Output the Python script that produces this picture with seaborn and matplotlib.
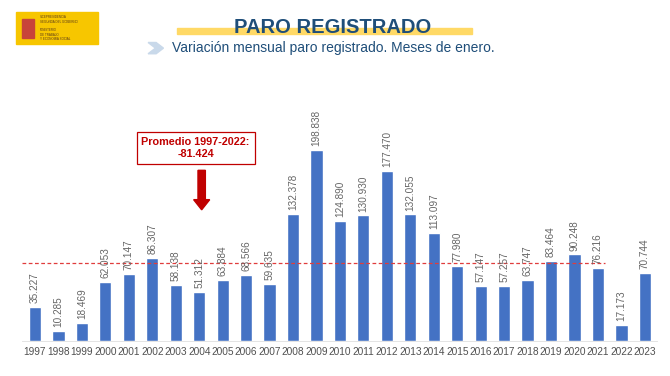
import pandas as pd
import matplotlib.pyplot as plt
import seaborn as sns
from matplotlib.patches import Rectangle, FancyArrow, Polygon

# === DATA ===
years = [str(y) for y in range(1997, 2024)]
values = [35227, 10285, 18469, 62053, 70147, 86307, 58138, 51312, 63884, 68566,
          59635, 132378, 198838, 124890, 130930, 177470, 132055, 113097, 77980,
          57147, 57257, 63747, 83464, 90248, 76216, 17173, 70744]
labels = ["35.227", "10.285", "18.469", "62.053", "70.147", "86.307", "58.138",
          "51.312", "63.884", "68.566", "59.635", "132.378", "198.838", "124.890",
          "130.930", "177.470", "132.055", "113.097", "77.980", "57.147", "57.257",
          "63.747", "83.464", "90.248", "76.216", "17.173", "70.744"]
promedio = 81424

df = pd.DataFrame({'year': years, 'value': values})

sns.set_theme(style='white')
plt.rcParams['font.family'] = ['Liberation Sans', 'DejaVu Sans']

fig = plt.figure(figsize=(6.7, 3.76), dpi=100)
ax = fig.add_axes([0.033, 0.093, 0.947, 0.694])

sns.barplot(data=df, x='year', y='value', color='#4472C4', width=0.52,
            saturation=1, ax=ax)

# value labels above bars, rotated
for i, (v, lab) in enumerate(zip(values, labels)):
    ax.text(i, v + 4000, lab, rotation=90, ha='center', va='bottom',
            fontsize=7.2, color='#666666')

# average line
ax.plot([-0.55, 24.3], [promedio, promedio], ls=(0, (3, 2)), color='#E03C3C',
        lw=0.9)

ax.set_ylim(0, 272000)
ax.set_xlim(-0.55, 26.5)
ax.set_xlabel('')
ax.set_ylabel('')
ax.set_yticks([])
ax.tick_params(axis='x', length=0, labelsize=7.3, labelcolor='#505050', pad=4)
for s in ['top', 'right', 'left']:
    ax.spines[s].set_visible(False)
ax.spines['bottom'].set_color('#E4E4E4')
ax.spines['bottom'].set_linewidth(0.7)

# annotation box and arrow
fig.text(0.292, 0.607, 'Promedio 1997-2022:\n-81.424', ha='center', va='center',
         fontsize=7.8, fontweight='bold', color='#C00000', linespacing=1.3,
         bbox=dict(boxstyle='square,pad=0.45', fc='white', ec='#C00000', lw=0.9))
fig.patches.append(FancyArrow(0.301, 0.547, 0, -0.105, width=0.011,
                              head_width=0.024, head_length=0.027,
                              length_includes_head=True, color='#C00000',
                              transform=fig.transFigure, figure=fig))

# title with yellow underline
fig.patches.append(Rectangle((0.264, 0.909), 0.44, 0.017, color='#FFD966',
                             transform=fig.transFigure, figure=fig))
fig.text(0.497, 0.926, 'PARO REGISTRADO', ha='center', va='center',
         fontsize=14.5, fontweight='bold', color='#1F4E79')
fig.text(0.257, 0.872, 'Variación mensual paro registrado. Meses de enero.',
         ha='left', va='center', fontsize=10, color='#1F4E79')
fig.patches.append(Polygon([(0.221, 0.887), (0.233, 0.887), (0.244, 0.872),
                            (0.233, 0.857), (0.221, 0.857), (0.232, 0.872)],
                           closed=True, color='#C9D9EA',
                           transform=fig.transFigure, figure=fig))

# logo block
fig.patches.append(Rectangle((0.024, 0.883), 0.122, 0.085, color='#F7C600',
                             transform=fig.transFigure, figure=fig))
fig.patches.append(Rectangle((0.033, 0.9), 0.018, 0.05, color='#C8443A',
                             transform=fig.transFigure, figure=fig))
fig.text(0.06, 0.948, 'VICEPRESIDENCIA\nSEGUNDA DEL GOBIERNO', ha='left',
         va='center', fontsize=2.2, color='#5A3A1A', linespacing=1.1)
fig.text(0.06, 0.908, 'MINISTERIO\nDE TRABAJO\nY ECONOMÍA SOCIAL', ha='left',
         va='center', fontsize=2.2, color='#5A3A1A', linespacing=1.1)

fig.savefig('out.png', dpi=100)
